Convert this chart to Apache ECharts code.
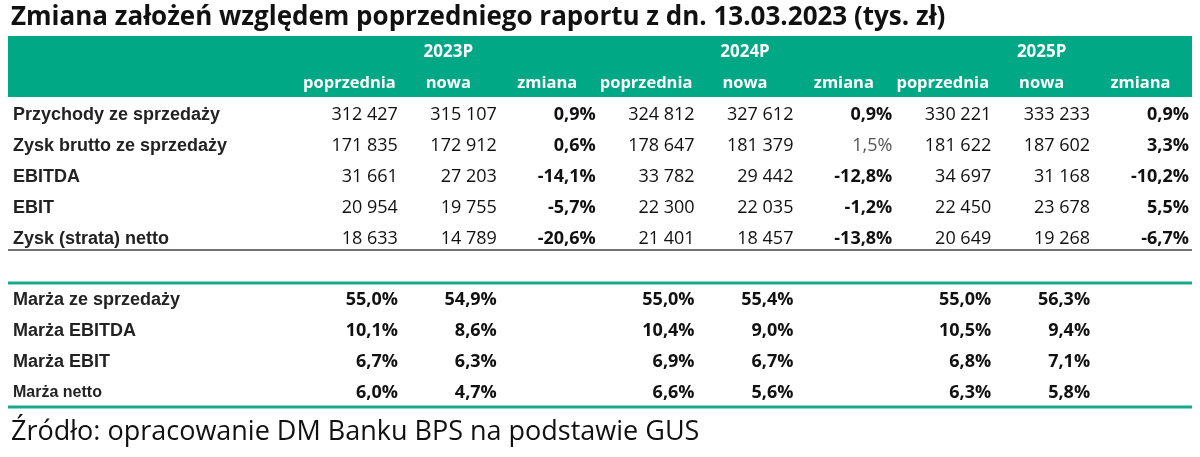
<!DOCTYPE html>
<html>
<head>
<meta charset="utf-8">
<script src="https://cdn.jsdelivr.net/npm/echarts@6/dist/echarts.min.js"></script>
<style>
  html, body { margin: 0; padding: 0; background: #fff; }
  #chart { width: 1200px; height: 457px; }
</style>
</head>
<body>
<div id="chart"></div>
<script>
// --- data ---
var years = ['2023P', '2024P', '2025P'];
var columns = ['poprzednia', 'nowa', 'zmiana', 'poprzednia', 'nowa', 'zmiana', 'poprzednia', 'nowa', 'zmiana'];
var rowLabels = ['Przychody ze sprzedaży', 'Zysk brutto ze sprzedaży', 'EBITDA', 'EBIT', 'Zysk (strata) netto', '',
  'Marża ze sprzedaży', 'Marża EBITDA', 'Marża EBIT', 'Marża netto'];

var prev2023 = [312427, 171835, 31661, 20954, 18633];
var new2023 = [315107, 172912, 27203, 19755, 14789];
var chg2023 = [0.9, 0.6, -14.1, -5.7, -20.6];
var prev2024 = [324812, 178647, 33782, 22300, 21401];
var new2024 = [327612, 181379, 29442, 22035, 18457];
var chg2024 = [0.9, 1.5, -12.8, -1.2, -13.8];
var prev2025 = [330221, 181622, 34697, 22450, 20649];
var new2025 = [333233, 187602, 31168, 23678, 19268];
var chg2025 = [0.9, 3.3, -10.2, 5.5, -6.7];

var margPrev2023 = [55.0, 10.1, 6.7, 6.0];
var margNew2023 = [54.9, 8.6, 6.3, 4.7];
var margPrev2024 = [55.0, 10.4, 6.9, 6.6];
var margNew2024 = [55.4, 9.0, 6.7, 5.6];
var margPrev2025 = [55.0, 10.5, 6.8, 6.3];
var margNew2025 = [56.3, 9.4, 7.1, 5.8];

// --- formatting ---
function fmtNum(v) {
  return String(v).replace(/\B(?=(\d{3})+(?!\d))/g, ' ');
}
function fmtPct(v) {
  return v.toFixed(1).replace('.', ',') + '%';
}

var cells = [];
function addNums(col, arr) {
  arr.forEach(function (v, i) { cells.push({ col: col, row: i, text: fmtNum(v), kind: 'num' }); });
}
function addPct(col, arr, rowStart) {
  arr.forEach(function (v, i) { cells.push({ col: col, row: rowStart + i, text: fmtPct(v), kind: 'pct' }); });
}
addNums(0, prev2023); addNums(1, new2023); addPct(2, chg2023, 0);
addNums(3, prev2024); addNums(4, new2024); addPct(5, chg2024, 0);
addNums(6, prev2025); addNums(7, new2025); addPct(8, chg2025, 0);
addPct(0, margPrev2023, 6); addPct(1, margNew2023, 6);
addPct(3, margPrev2024, 6); addPct(4, margNew2024, 6);
addPct(6, margPrev2025, 6); addPct(7, margNew2025, 6);
// the 1,5% cell is printed plain grey in the source
cells.forEach(function (c) { if (c.col === 5 && c.row === 1) c.kind = 'grey'; });

var fonts = {
  num: { font: '18px "Open Sans"', fill: '#111' },
  pct: { font: 'bold 18px "Open Sans"', fill: '#111' },
  grey: { font: '18px "Open Sans"', fill: '#555' }
};

var chart = echarts.init(document.getElementById('chart'));
chart.setOption({
  backgroundColor: '#fff',
  animation: false,
  title: [{
    text: 'Zmiana założeń względem poprzedniego raportu z dn. 13.03.2023 (tys. zł)',
    left: 6, top: 0,
    textStyle: { fontFamily: 'Open Sans', fontWeight: 'bold', fontSize: 26, color: '#111' }
  }, {
    text: 'Źródło: opracowanie DM Banku BPS na podstawie GUS',
    left: 6, top: 414,
    textStyle: { fontFamily: 'Open Sans', fontWeight: 'normal', fontSize: 27, color: '#111' }
  }],
  graphic: [
    { type: 'rect', shape: { x: 8, y: 36, width: 1184, height: 61 }, style: { fill: '#00a886' }, z: -1 },
    { type: 'line', shape: { x1: 8, y1: 250, x2: 1192, y2: 250 }, style: { stroke: '#444', lineWidth: 1.5 } },
    { type: 'line', shape: { x1: 8, y1: 283, x2: 1192, y2: 283 }, style: { stroke: '#1aa98a', lineWidth: 3 } },
    { type: 'line', shape: { x1: 8, y1: 407, x2: 1192, y2: 407 }, style: { stroke: '#1aa98a', lineWidth: 3 } }
  ],
  grid: { left: 300, right: 10, top: 99.5, bottom: 48.5 },
  xAxis: [{
    type: 'category',
    position: 'top',
    data: columns,
    axisLine: { show: false }, axisTick: { show: false }, splitLine: { show: false },
    axisLabel: {
      color: '#fff', fontFamily: 'Open Sans', fontWeight: 'bold', fontSize: 16.5,
      margin: 16, verticalAlign: 'middle', interval: 0
    }
  }, {
    type: 'category',
    position: 'top',
    data: years,
    axisLine: { show: false }, axisTick: { show: false }, splitLine: { show: false },
    axisLabel: {
      color: '#fff', fontFamily: 'Open Sans', fontWeight: 'bold', fontSize: 17,
      margin: 47, verticalAlign: 'middle', interval: 0
    }
  }],
  yAxis: {
    type: 'category',
    inverse: true,
    data: rowLabels,
    axisLine: { show: false }, axisTick: { show: false }, splitLine: { show: false },
    axisLabel: {
      align: 'left', margin: 287, interval: 0,
      color: '#222', fontFamily: 'Liberation Sans', fontWeight: 'bold', fontSize: 18,
      formatter: function (v) { return v === 'Marża netto' ? '{s|' + v + '}' : v; },
      rich: { s: { fontFamily: 'Liberation Sans', fontWeight: 'bold', fontSize: 16, color: '#222' } }
    }
  },
  series: [{
    type: 'custom',
    xAxisIndex: 0,
    data: cells.map(function (c) { return [c.col, c.row]; }),
    renderItem: function (params, api) {
      var c = cells[params.dataIndex];
      var p = api.coord([api.value(0), api.value(1)]);
      var w = api.size([1, 0])[0];
      var f = fonts[c.kind];
      return {
        type: 'text',
        x: p[0] + w / 2 - 1,
        y: p[1],
        style: { text: c.text, font: f.font, fill: f.fill, align: 'right', verticalAlign: 'middle' }
      };
    }
  }]
});
</script>
</body>
</html>
